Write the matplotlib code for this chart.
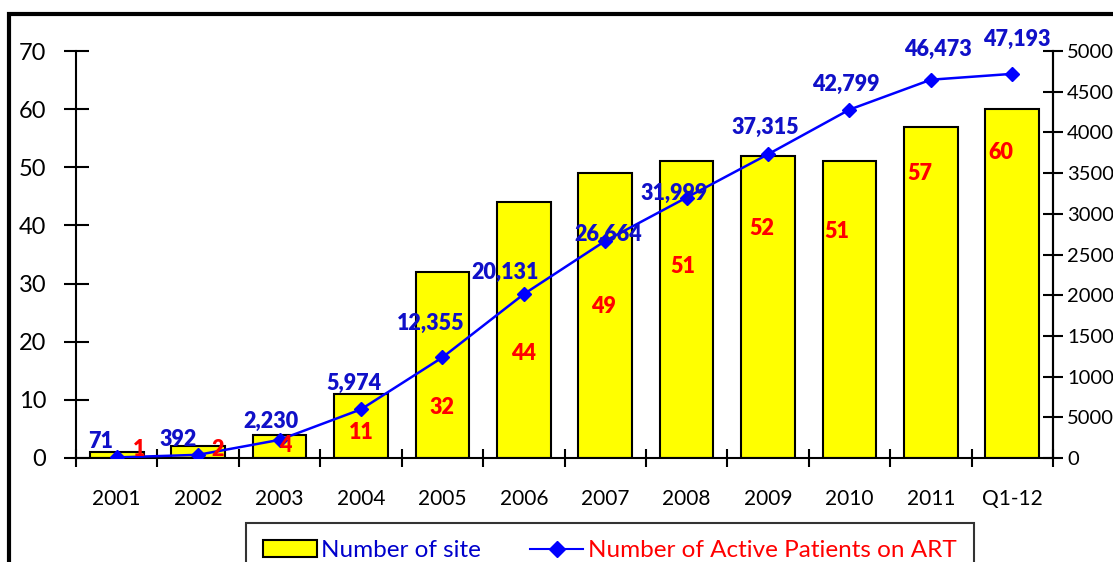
import matplotlib
matplotlib.use("Agg")
import matplotlib.pyplot as plt
from matplotlib.patches import Rectangle
from matplotlib.lines import Line2D

plt.rcParams['font.family'] = ['Lato', 'DejaVu Sans']

categories = ['2001', '2002', '2003', '2004', '2005', '2006', '2007', '2008',
              '2009', '2010', '2011', 'Q1-12']
sites = [1, 2, 4, 11, 32, 44, 49, 51, 52, 51, 57, 60]
patients = [71, 392, 2230, 5974, 12355, 20131, 26664, 31999, 37315, 42799, 46473, 47193]

# label placement (styling only): bar labels (dx in categories, y in left units)
site_label_pos = [(0.28, 1.5), (0.24, 1.4), (0.07, 2.1), (0.0, 4.3), (0.0, 8.6), (0.0, 17.9),
                  (-0.02, 26.0), (-0.05, 32.9), (-0.07, 39.4), (-0.15, 39.0), (-0.14, 49.0),
                  (-0.14, 52.6)]
# line labels: offsets in pixels from the marker
pat_label_off = [(-16, 16), (-20, 15), (-9, 18), (-7, 26), (-12, 34), (-19, 22), (3, 7),
                 (-13, 4), (-3, 27), (-4, 25), (7, 30), (5, 34)]

W, H = 1113, 562
fig = plt.figure(figsize=(W / 100, H / 100), dpi=100)
ax = fig.add_axes([76 / W, 1 - 458 / H, (1053 - 76) / W, (458 - 51) / H])
ax2 = ax.twinx()

x = list(range(len(categories)))
ax.bar(x, sites, width=0.66, color='#FFFF00', edgecolor='black', linewidth=1.5, zorder=2)
ax.set_xlim(-0.5, len(categories) - 0.5)
ax.set_ylim(0, 70)
ax.set_yticks(range(0, 71, 10))
ax2.set_ylim(0, 50000)
ax2.set_yticks(range(0, 50001, 5000))

ax2.plot(x, patients, color='#0000FF', linewidth=1.8, marker='D', markersize=7.5,
         markerfacecolor='#0000FF', markeredgecolor='#0000FF', zorder=3)

for a in (ax, ax2):
    a.spines['top'].set_visible(False)
    for sp in a.spines.values():
        sp.set_linewidth(1.5)
ax2.spines['left'].set_visible(False)
ax2.spines['bottom'].set_visible(False)

# x ticks at category boundaries, labels at centres
ax.set_xticks([i + 0.5 for i in range(-1, len(categories))])
ax.set_xticklabels([])
ax.set_xticks(x, minor=True)
ax.set_xticklabels(categories, minor=True, fontsize=15)
ax.tick_params(axis='x', which='major', direction='inout', length=13, width=1.5)
ax.tick_params(axis='x', which='minor', length=0, pad=22)
ax.tick_params(axis='y', direction='inout', length=18, width=1.5, labelsize=17, pad=12.5)
ax2.tick_params(axis='y', direction='inout', length=14, width=1.5, labelsize=14.5, pad=3)

for i, (v, (dx, yy)) in enumerate(zip(sites, site_label_pos)):
    ax2.text(i + dx, yy, str(v), transform=ax.transData, color='#FF0000',
             fontweight='heavy', fontsize=15.5, ha='center', va='center', zorder=5)

for i, (v, (ox, oy)) in enumerate(zip(patients, pat_label_off)):
    ax2.annotate(f'{v:,}', (i, v), xytext=(ox, oy), textcoords='offset pixels',
                 color='#1010C8', fontweight='heavy', fontsize=15.5, ha='center', va='center',
                 zorder=5)

handles = [Rectangle((0, 0), 1, 1, facecolor='#FFFF00', edgecolor='black', linewidth=1.5),
           Line2D([], [], color='#0000FF', linewidth=1.5, marker='D', markersize=8)]
leg = fig.legend(handles, ['Number of site', 'Number of Active Patients on ART'],
                 loc='upper center', bbox_to_anchor=(610 / W, 1 - 523 / H), ncol=2,
                 fontsize=17.5, frameon=True, fancybox=False, edgecolor='black',
                 borderpad=0.7, columnspacing=2.0, handlelength=2.2, handletextpad=0.2,
                 borderaxespad=0)
leg.get_frame().set_linewidth(1.5)
cols = ['#0000CC', '#FF0000']
for t, c in zip(leg.get_texts(), cols):
    t.set_color(c)

border = Rectangle((9 / W, -0.2), 1.2, 0.2 + 1 - 14 / H, transform=fig.transFigure,
                   fill=False, edgecolor='black', linewidth=3, clip_on=False)
fig.patches.append(border)

fig.savefig('out.png', dpi=100)
